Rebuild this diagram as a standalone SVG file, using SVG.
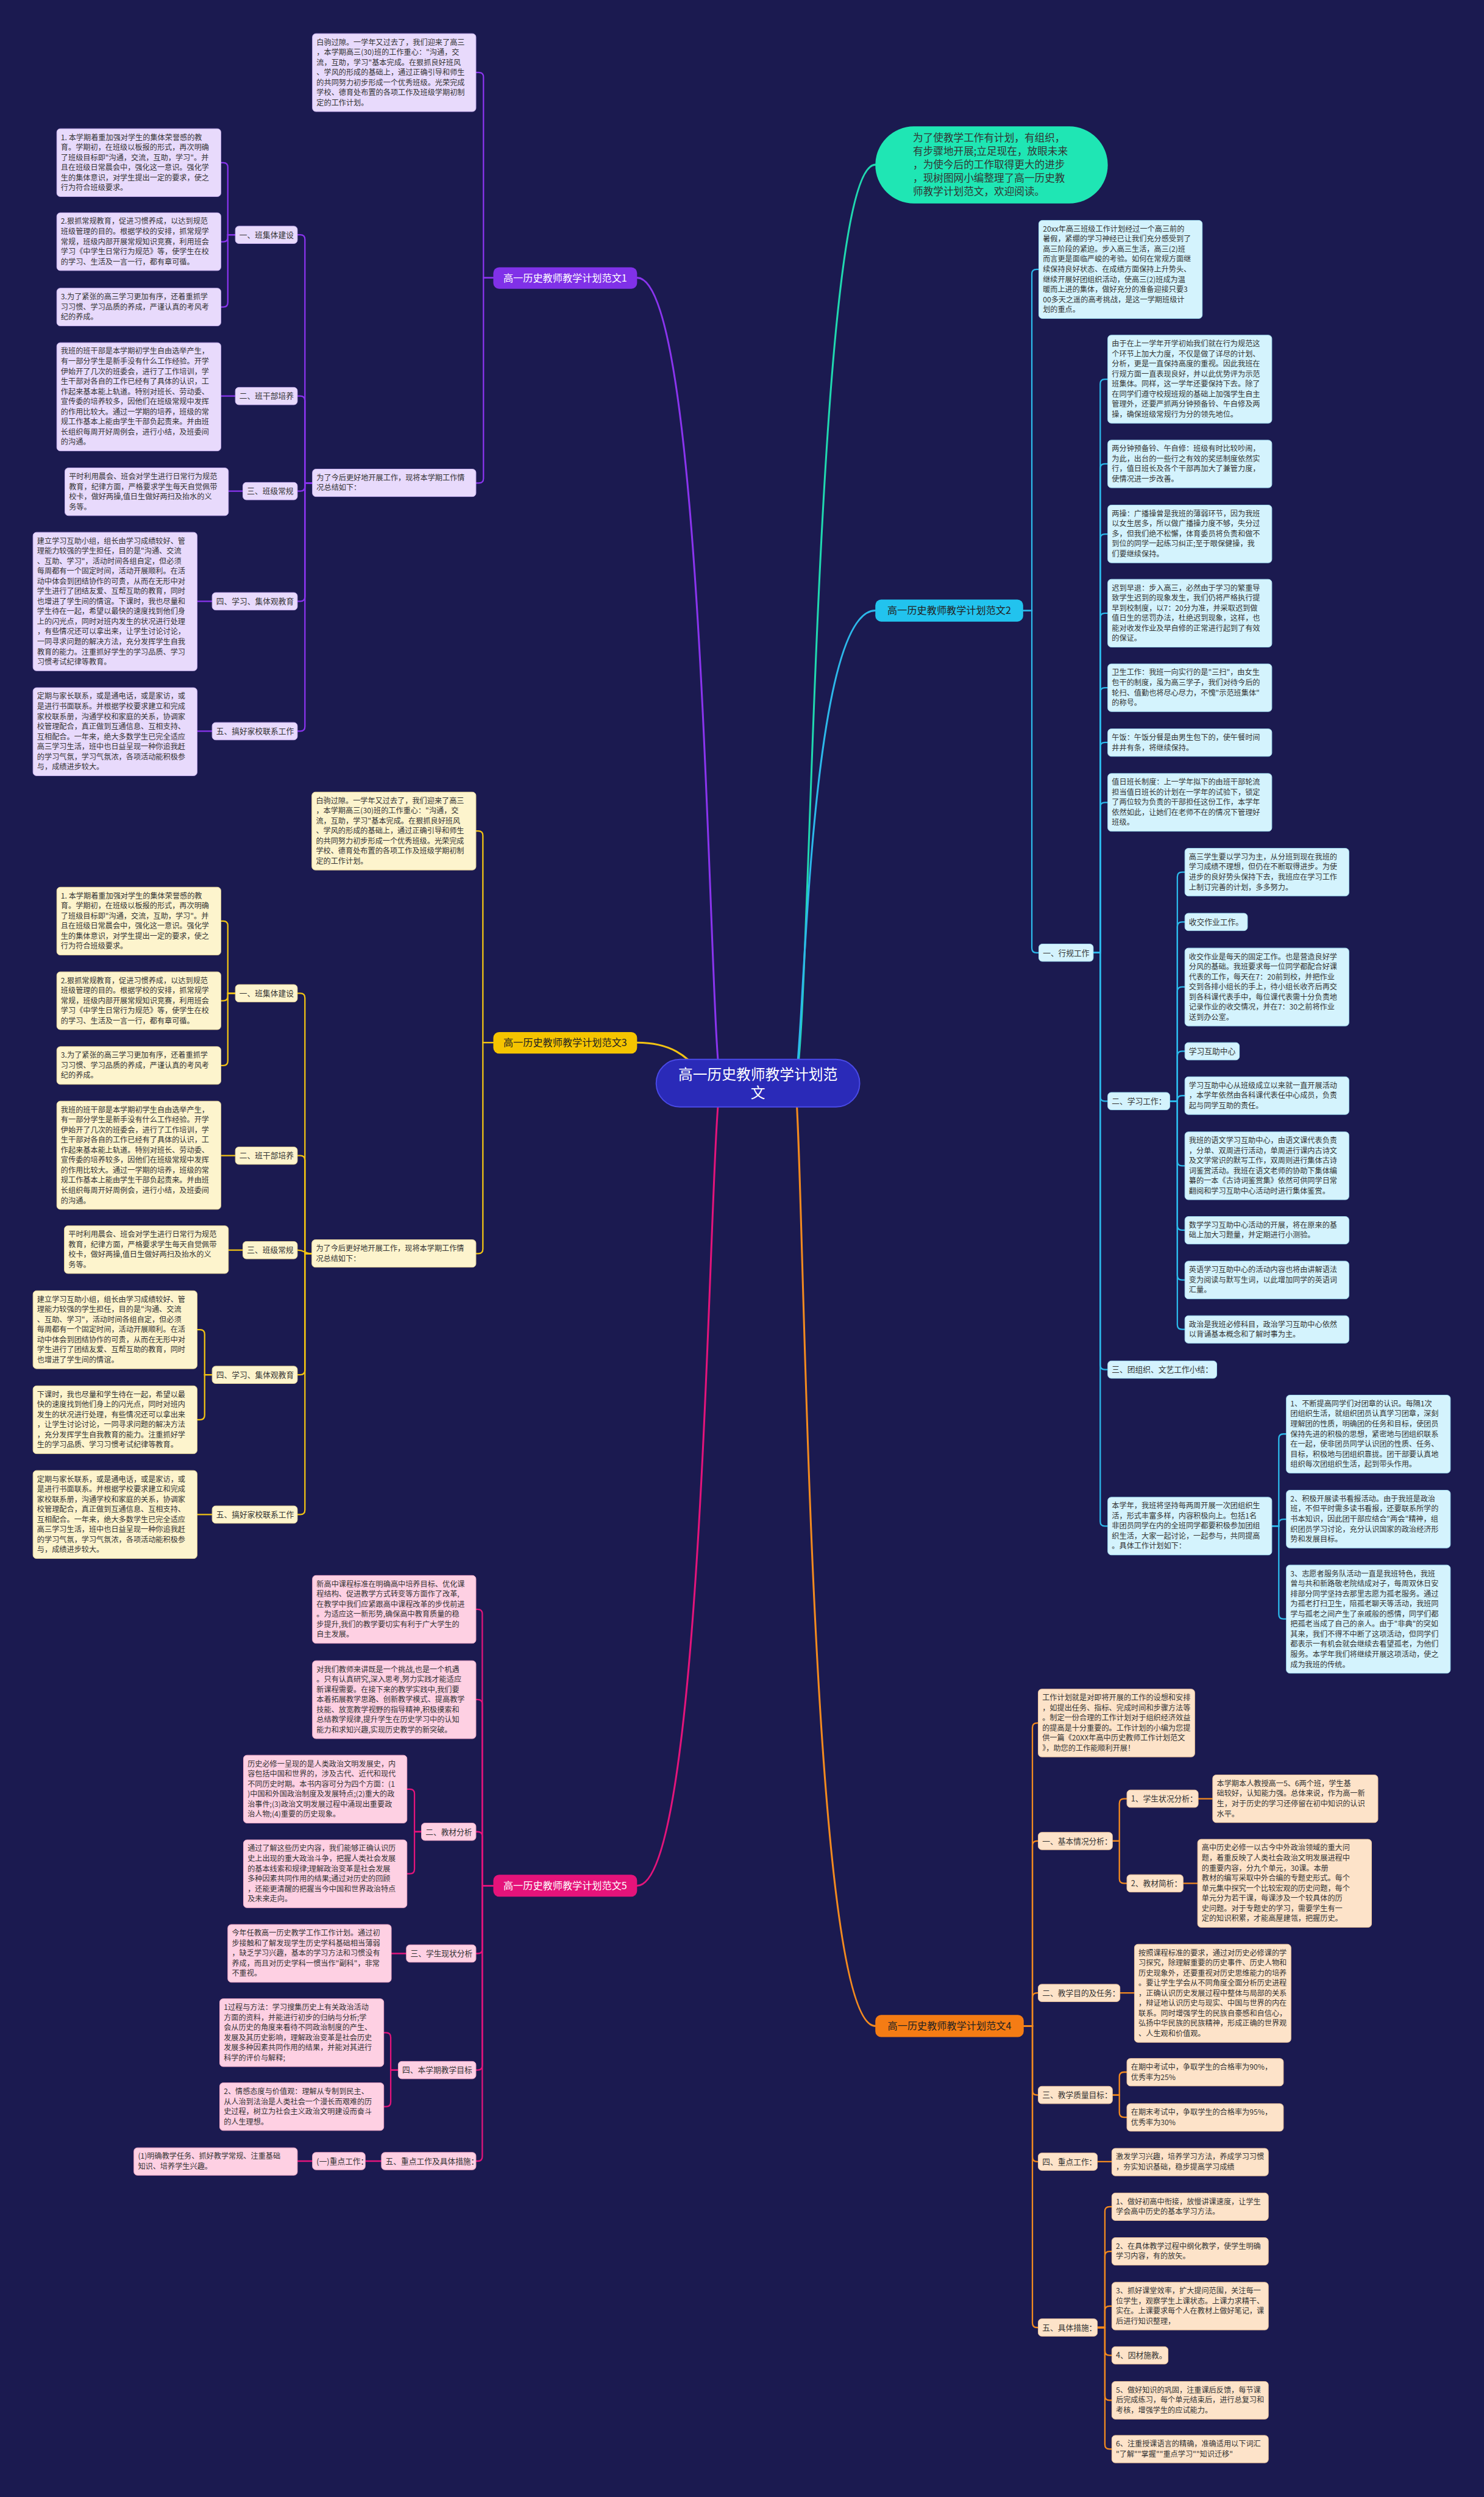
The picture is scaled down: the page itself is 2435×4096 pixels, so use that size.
<svg xmlns="http://www.w3.org/2000/svg" width="2435" height="4096" viewBox="0 0 2435 4096">
<style>
.t{font-family:"Noto Sans CJK SC","Noto Sans",sans-serif;font-size:12.8px;fill:#333}
.lb{font-size:13.4px}
.bt{font-family:"Noto Sans CJK SC","Noto Sans",sans-serif;font-size:17px}
.w{fill:#fff}
.d{fill:#222}
.c{fill:none;stroke-width:2.4;stroke-linecap:round}
.m{fill:none;stroke-width:3.2;stroke-linecap:round}
.c1{stroke:#8a34ee}.c3{stroke:#f2c313}.c5{stroke:#e3147b}.c2{stroke:#2cb8ea}.c4{stroke:#f38a1f}.cb{stroke:#20d8b0}
.p1{fill:#e8dafc;stroke:#cdb5f3;stroke-width:1}
.p3{fill:#fdf4cd;stroke:#ead79a;stroke-width:1}
.p5{fill:#fed0e3;stroke:#f2a9c8;stroke-width:1}
.p2{fill:#d4f3fd;stroke:#9fdcf1;stroke-width:1}
.p4{fill:#fde3c9;stroke:#efc59c;stroke-width:1}
</style>
<rect width="2435" height="4096" fill="#1b1a50"/>
<g transform="scale(0.95117)">
<g id="connectors">
<path class="m c1" d="M1245 1868C1222 1868 1222 479 1099 479"/>
<path class="m c3" d="M1245 1868C1200 1868 1200 1798 1099 1798"/>
<path class="m c5" d="M1245 1868C1222 1868 1222 3252 1099 3252"/>
<path class="m cb" d="M1370 1868C1400 1868 1400 284 1510 284"/>
<path class="m c2" d="M1370 1868C1388 1868 1388 1053 1510 1053"/>
<path class="m c4" d="M1370 1868C1388 1868 1388 3494 1510 3494"/>
<g class="c c1">
<path d="M851 479H834V133Q834 125 826 125H821"/>
<path d="M851 479H834V825Q834 833 826 833H821"/>
<path d="M539 833H526V413Q526 405 518 405H513"/>
<path d="M539 833H526V691Q526 683 518 683H513"/>
<path d="M539 833H526V839Q526 847 518 847H513"/>
<path d="M539 833H526V1029Q526 1037 518 1037H513"/>
<path d="M539 833H526V1253Q526 1261 518 1261H513"/>
<path d="M406 405H393V288.5Q393 280.5 385 280.5H381"/>
<path d="M406 405H393V409Q393 417 385 417H381"/>
<path d="M406 405H393V521.5Q393 529.5 385 529.5H381"/>
<path d="M406 683H381"/>
<path d="M419 847H394"/>
<path d="M366 1037H340"/>
<path d="M366 1261H340"/>
</g>
<g class="c c3">
<path d="M851 1798H833V1441Q833 1433 825 1433H821"/>
<path d="M851 1798H833V2154Q833 2162 825 2162H821"/>
<path d="M538 2162H526V1721Q526 1713 518 1713H513"/>
<path d="M538 2162H526V2001Q526 1993 518 1993H513"/>
<path d="M538 2162C526 2162 526 2156 513 2156"/>
<path d="M538 2162H526V2363Q526 2371 518 2371H513"/>
<path d="M538 2162H526V2604Q526 2612 518 2612H513"/>
<path d="M406 1713H393V1596.5Q393 1588.5 385 1588.5H380"/>
<path d="M406 1713H393V1718Q393 1726 385 1726H380"/>
<path d="M406 1713H393V1829.5Q393 1837.5 385 1837.5H380"/>
<path d="M406 1993H381"/>
<path d="M419 2156H394"/>
<path d="M366 2371H353V2301Q353 2293 345 2293H340"/>
<path d="M366 2371H353V2440.5Q353 2448.5 345 2448.5H340"/>
<path d="M366 2612H340"/>
</g>
<g class="c c5">
<path d="M851 3252H832V2783.5Q832 2775.5 824 2775.5H821"/>
<path d="M851 3252H832V2939Q832 2931 824 2931H821"/>
<path d="M851 3252H832V3167Q832 3159 824 3159H821"/>
<path d="M851 3252H832V3361Q832 3369 824 3369H821"/>
<path d="M851 3252H832V3562Q832 3570 824 3570H821"/>
<path d="M851 3252H832V3719Q832 3727 824 3727H821"/>
<path d="M727 3159H715V3093.5Q715 3085.5 707 3085.5H702"/>
<path d="M727 3159H715V3223.5Q715 3231.5 707 3231.5H702"/>
<path d="M701 3369H675"/>
<path d="M687 3570H674V3513.5Q674 3505.5 666 3505.5H662"/>
<path d="M687 3570H674V3625Q674 3633 666 3633H662"/>
<path d="M658 3727H630"/>
<path d="M539 3727H513"/>
</g>
<g class="c c2">
<path d="M1765 1053H1780V472.5Q1780 464.5 1788 464.5H1792"/>
<path d="M1765 1053H1780V1635Q1780 1643 1788 1643H1792"/>
<path d="M1886 1643H1898V662Q1898 654 1906 654H1911"/>
<path d="M1886 1643H1898V808Q1898 800 1906 800H1911"/>
<path d="M1886 1643H1898V929Q1898 921 1906 921H1911"/>
<path d="M1886 1643H1898V1065.5Q1898 1057.5 1906 1057.5H1911"/>
<path d="M1886 1643H1898V1194Q1898 1186 1906 1186H1911"/>
<path d="M1886 1643H1898V1288.5Q1898 1280.5 1906 1280.5H1911"/>
<path d="M1886 1643H1898V1392Q1898 1384 1906 1384H1911"/>
<path d="M1886 1643H1898V1891Q1898 1899 1906 1899H1911"/>
<path d="M1886 1643H1898V2354Q1898 2362 1906 2362H1911"/>
<path d="M1886 1643H1898V2624Q1898 2632 1906 2632H1911"/>
<path d="M2018 1899H2031V1512Q2031 1504 2039 1504H2044"/>
<path d="M2018 1899H2031V1598Q2031 1590 2039 1590H2044"/>
<path d="M2018 1899H2031V1710Q2031 1702 2039 1702H2044"/>
<path d="M2018 1899H2031V1821Q2031 1813 2039 1813H2044"/>
<path d="M2018 1899H2031V1897.5Q2031 1889.5 2039 1889.5H2044"/>
<path d="M2018 1899H2031V2002.5Q2031 2010.5 2039 2010.5H2044"/>
<path d="M2018 1899H2031V2113.5Q2031 2121.5 2039 2121.5H2044"/>
<path d="M2018 1899H2031V2199.5Q2031 2207.5 2039 2207.5H2044"/>
<path d="M2018 1899H2031V2284.5Q2031 2292.5 2039 2292.5H2044"/>
<path d="M2194 2632H2206V2481Q2206 2473 2214 2473H2219"/>
<path d="M2194 2632H2206V2628Q2206 2620 2214 2620H2219"/>
<path d="M2194 2632H2206V2784Q2206 2792 2214 2792H2219"/>
</g>
<g class="c c4">
<path d="M1766 3494H1781V2979.5Q1781 2971.5 1789 2971.5H1791"/>
<path d="M1766 3494H1781V3183Q1781 3175 1789 3175H1791"/>
<path d="M1766 3494H1781V3445Q1781 3437 1789 3437H1791"/>
<path d="M1766 3494H1781V3605Q1781 3613 1789 3613H1791"/>
<path d="M1766 3494H1781V3720Q1781 3728 1789 3728H1791"/>
<path d="M1766 3494H1781V4006Q1781 4014 1789 4014H1791"/>
<path d="M1919 3175H1931V3110Q1931 3102 1939 3102H1944"/>
<path d="M1919 3175H1931V3240Q1931 3248 1939 3248H1944"/>
<path d="M2067 3102H2092"/>
<path d="M2041 3248H2066"/>
<path d="M1932 3437H1957"/>
<path d="M1919 3613H1931V3581.5Q1931 3573.5 1939 3573.5H1944"/>
<path d="M1919 3613H1931V3643.5Q1931 3651.5 1939 3651.5H1944"/>
<path d="M1893 3728H1918"/>
<path d="M1893 4014H1906V3813.7Q1906 3805.7 1914 3805.7H1918"/>
<path d="M1893 4014H1906V3890.7Q1906 3882.7 1914 3882.7H1918"/>
<path d="M1893 4014H1906V3985Q1906 3977 1914 3977H1918"/>
<path d="M1893 4014H1906V4054Q1906 4062 1914 4062H1918"/>
<path d="M1893 4014H1906V4131.5Q1906 4139.5 1914 4139.5H1918"/>
<path d="M1893 4014H1906V4215.7Q1906 4223.7 1914 4223.7H1918"/>
</g>
</g>

<g id="center"><rect x="1132" y="1827" width="351" height="82" rx="41" fill="#2a2ab8" stroke="#4a4ae6" stroke-width="2"/>
<text class="bt w" style="font-size:25px" text-anchor="middle" x="1307.5" y="1862">高一历史教师教学计划范<tspan x="1307.5" dy="31">文</tspan></text></g>

<!-- Branch 1 -->
<g id="b1"><rect x="851" y="461" width="248" height="37" rx="10" fill="#8031e8"/><text class="bt w" text-anchor="middle" x="975" y="485.5">高一历史教师教学计划范文1</text></g>
<g id="b1-intro"><rect class="p1" x="539" y="58" width="282" height="134.4" rx="6"/><text class="t" x="546" y="77.3"><tspan x="546">白驹过隙。一学年又过去了，我们迎来了高三</tspan><tspan x="546" dy="17.4">，本学期高三(30)班的工作重心："沟通，交</tspan><tspan x="546" dy="17.4">流，互助，学习"基本完成。在狠抓良好班风</tspan><tspan x="546" dy="17.4">、学风的形成的基础上，通过正确引导和师生</tspan><tspan x="546" dy="17.4">的共同努力初步形成一个优秀班级。光荣完成</tspan><tspan x="546" dy="17.4">学校、德育处布置的各项工作及班级学期初制</tspan><tspan x="546" dy="17.4">定的工作计划。</tspan></text></g>
<g id="b1-sum"><rect class="p1" x="539" y="809" width="282" height="47.4" rx="6"/><text class="t" x="546" y="828.3"><tspan x="546">为了今后更好地开展工作，现将本学期工作情</tspan><tspan x="546" dy="17.4">况总结如下：</tspan></text></g>
<g id="b1-l1"><rect class="p1" x="406" y="390" width="107" height="30" rx="6"/><text class="t lb" x="413" y="410">一、班集体建设</text></g>
<g id="b1-l2"><rect class="p1" x="406" y="668" width="107" height="30" rx="6"/><text class="t lb" x="413" y="688">二、班干部培养</text></g>
<g id="b1-l3"><rect class="p1" x="419" y="832" width="94" height="30" rx="6"/><text class="t lb" x="426" y="852">三、班级常规</text></g>
<g id="b1-l4"><rect class="p1" x="366" y="1022" width="147" height="30" rx="6"/><text class="t lb" x="373" y="1042">四、学习、集体观教育</text></g>
<g id="b1-l5"><rect class="p1" x="366" y="1246" width="147" height="30" rx="6"/><text class="t lb" x="373" y="1266">五、搞好家校联系工作</text></g>
<g id="b1-1a"><rect class="p1" x="98" y="222" width="283" height="117" rx="6"/><text class="t" x="105" y="241.3"><tspan x="105">1. 本学期着重加强对学生的集体荣誉感的教</tspan><tspan x="105" dy="17.4">育。学期初，在班级以板报的形式，再次明确</tspan><tspan x="105" dy="17.4">了班级目标即"沟通，交流，互助，学习"。并</tspan><tspan x="105" dy="17.4">且在班级日常晨会中，强化这一意识。强化学</tspan><tspan x="105" dy="17.4">生的集体意识，对学生提出一定的要求，使之</tspan><tspan x="105" dy="17.4">行为符合班级要求。</tspan></text></g>
<g id="b1-1b"><rect class="p1" x="98" y="367" width="283" height="99.6" rx="6"/><text class="t" x="105" y="386.3"><tspan x="105">2.狠抓常规教育，促进习惯养成，以达到规范</tspan><tspan x="105" dy="17.4">班级管理的目的。根据学校的安排，抓常规学</tspan><tspan x="105" dy="17.4">常规，班级内部开展常规知识竞赛，利用班会</tspan><tspan x="105" dy="17.4">学习《中学生日常行为规范》等，使学生在校</tspan><tspan x="105" dy="17.4">的学习、生活及一言一行，都有章可循。</tspan></text></g>
<g id="b1-1c"><rect class="p1" x="98" y="497" width="283" height="65" rx="6"/><text class="t" x="105" y="516.3"><tspan x="105">3.为了紧张的高三学习更加有序，还着重抓学</tspan><tspan x="105" dy="17.4">习习惯、学习品质的养成，严谨认真的考风考</tspan><tspan x="105" dy="17.4">纪的养成。</tspan></text></g>
<g id="b1-2"><rect class="p1" x="98" y="591" width="283" height="186.6" rx="6"/><text class="t" x="105" y="610.3"><tspan x="105">我班的班干部是本学期初学生自由选举产生，</tspan><tspan x="105" dy="17.4">有一部分学生是新手没有什么工作经验。开学</tspan><tspan x="105" dy="17.4">伊始开了几次的班委会，进行了工作培训，学</tspan><tspan x="105" dy="17.4">生干部对各自的工作已经有了具体的认识，工</tspan><tspan x="105" dy="17.4">作起来基本能上轨道。特别对班长、劳动委、</tspan><tspan x="105" dy="17.4">宣传委的培养较多，因他们在班级常规中发挥</tspan><tspan x="105" dy="17.4">的作用比较大。通过一学期的培养，班级的常</tspan><tspan x="105" dy="17.4">规工作基本上能由学生干部负起责来。并由班</tspan><tspan x="105" dy="17.4">长组织每周开好周例会，进行小结，及班委间</tspan><tspan x="105" dy="17.4">的沟通。</tspan></text></g>
<g id="b1-3"><rect class="p1" x="112" y="807" width="282" height="82.2" rx="6"/><text class="t" x="119" y="826.3"><tspan x="119">平时利用晨会、班会对学生进行日常行为规范</tspan><tspan x="119" dy="17.4">教育，纪律方面，严格要求学生每天自觉佩带</tspan><tspan x="119" dy="17.4">校卡，做好两操,值日生做好两扫及抬水的义</tspan><tspan x="119" dy="17.4">务等。</tspan></text></g>
<g id="b1-4"><rect class="p1" x="57" y="918" width="283" height="238.8" rx="6"/><text class="t" x="64" y="937.3"><tspan x="64">建立学习互助小组，组长由学习成绩较好、管</tspan><tspan x="64" dy="17.4">理能力较强的学生担任，目的是"沟通、交流</tspan><tspan x="64" dy="17.4">、互助、学习"，活动时间各组自定，但必须</tspan><tspan x="64" dy="17.4">每周都有一个固定时间，活动开展顺利。在活</tspan><tspan x="64" dy="17.4">动中体会到团结协作的可贵，从而在无形中对</tspan><tspan x="64" dy="17.4">学生进行了团结友爱、互帮互助的教育，同时</tspan><tspan x="64" dy="17.4">也增进了学生间的情谊。下课时，我也尽量和</tspan><tspan x="64" dy="17.4">学生待在一起，希望以最快的速度找到他们身</tspan><tspan x="64" dy="17.4">上的闪光点，同时对班内发生的状况进行处理</tspan><tspan x="64" dy="17.4">，有些情况还可以拿出来，让学生讨论讨论，</tspan><tspan x="64" dy="17.4">一同寻求问题的解决方法，充分发挥学生自我</tspan><tspan x="64" dy="17.4">教育的能力。注重抓好学生的学习品质、学习</tspan><tspan x="64" dy="17.4">习惯考试纪律等教育。</tspan></text></g>
<g id="b1-5"><rect class="p1" x="57" y="1186" width="283" height="151.8" rx="6"/><text class="t" x="64" y="1205.3"><tspan x="64">定期与家长联系，或是通电话，或是家访，或</tspan><tspan x="64" dy="17.4">是进行书面联系。并根据学校要求建立和完成</tspan><tspan x="64" dy="17.4">家校联系册，沟通学校和家庭的关系，协调家</tspan><tspan x="64" dy="17.4">校管理配合，真正做到互通信息、互相支持、</tspan><tspan x="64" dy="17.4">互相配合。一年来，绝大多数学生已完全适应</tspan><tspan x="64" dy="17.4">高三学习生活，班中也日益呈现一种你追我赶</tspan><tspan x="64" dy="17.4">的学习气氛，学习气氛浓，各项活动能积极参</tspan><tspan x="64" dy="17.4">与，成绩进步较大。</tspan></text></g>

<!-- Branch 3 -->
<g id="b3"><rect x="851" y="1780" width="248" height="37" rx="10" fill="#f5c400"/><text class="bt d" text-anchor="middle" x="975" y="1804.5">高一历史教师教学计划范文3</text></g>
<g id="b3-intro"><rect class="p3" x="538" y="1366" width="283" height="134.4" rx="6"/><text class="t" x="545" y="1385.3"><tspan x="545">白驹过隙。一学年又过去了，我们迎来了高三</tspan><tspan x="545" dy="17.4">，本学期高三(30)班的工作重心："沟通，交</tspan><tspan x="545" dy="17.4">流，互助，学习"基本完成。在狠抓良好班风</tspan><tspan x="545" dy="17.4">、学风的形成的基础上，通过正确引导和师生</tspan><tspan x="545" dy="17.4">的共同努力初步形成一个优秀班级。光荣完成</tspan><tspan x="545" dy="17.4">学校、德育处布置的各项工作及班级学期初制</tspan><tspan x="545" dy="17.4">定的工作计划。</tspan></text></g>
<g id="b3-sum"><rect class="p3" x="538" y="2138" width="283" height="47.4" rx="6"/><text class="t" x="545" y="2157.3"><tspan x="545">为了今后更好地开展工作，现将本学期工作情</tspan><tspan x="545" dy="17.4">况总结如下：</tspan></text></g>
<g id="b3-l1"><rect class="p3" x="406" y="1698" width="107" height="30" rx="6"/><text class="t lb" x="413" y="1718">一、班集体建设</text></g>
<g id="b3-l2"><rect class="p3" x="406" y="1978" width="107" height="30" rx="6"/><text class="t lb" x="413" y="1998">二、班干部培养</text></g>
<g id="b3-l3"><rect class="p3" x="419" y="2141" width="94" height="30" rx="6"/><text class="t lb" x="426" y="2161">三、班级常规</text></g>
<g id="b3-l4"><rect class="p3" x="366" y="2356" width="147" height="30" rx="6"/><text class="t lb" x="373" y="2376">四、学习、集体观教育</text></g>
<g id="b3-l5"><rect class="p3" x="366" y="2597" width="147" height="30" rx="6"/><text class="t lb" x="373" y="2617">五、搞好家校联系工作</text></g>
<g id="b3-1a"><rect class="p3" x="98" y="1530" width="283" height="117" rx="6"/><text class="t" x="105" y="1549.3"><tspan x="105">1. 本学期着重加强对学生的集体荣誉感的教</tspan><tspan x="105" dy="17.4">育。学期初，在班级以板报的形式，再次明确</tspan><tspan x="105" dy="17.4">了班级目标即"沟通，交流，互助，学习"。并</tspan><tspan x="105" dy="17.4">且在班级日常晨会中，强化这一意识。强化学</tspan><tspan x="105" dy="17.4">生的集体意识，对学生提出一定的要求，使之</tspan><tspan x="105" dy="17.4">行为符合班级要求。</tspan></text></g>
<g id="b3-1b"><rect class="p3" x="98" y="1676" width="283" height="99.6" rx="6"/><text class="t" x="105" y="1695.3"><tspan x="105">2.狠抓常规教育，促进习惯养成，以达到规范</tspan><tspan x="105" dy="17.4">班级管理的目的。根据学校的安排，抓常规学</tspan><tspan x="105" dy="17.4">常规，班级内部开展常规知识竞赛，利用班会</tspan><tspan x="105" dy="17.4">学习《中学生日常行为规范》等，使学生在校</tspan><tspan x="105" dy="17.4">的学习、生活及一言一行，都有章可循。</tspan></text></g>
<g id="b3-1c"><rect class="p3" x="98" y="1805" width="283" height="65" rx="6"/><text class="t" x="105" y="1824.3"><tspan x="105">3.为了紧张的高三学习更加有序，还着重抓学</tspan><tspan x="105" dy="17.4">习习惯、学习品质的养成，严谨认真的考风考</tspan><tspan x="105" dy="17.4">纪的养成。</tspan></text></g>
<g id="b3-2"><rect class="p3" x="98" y="1899" width="283" height="186.6" rx="6"/><text class="t" x="105" y="1918.3"><tspan x="105">我班的班干部是本学期初学生自由选举产生，</tspan><tspan x="105" dy="17.4">有一部分学生是新手没有什么工作经验。开学</tspan><tspan x="105" dy="17.4">伊始开了几次的班委会，进行了工作培训，学</tspan><tspan x="105" dy="17.4">生干部对各自的工作已经有了具体的认识，工</tspan><tspan x="105" dy="17.4">作起来基本能上轨道。特别对班长、劳动委、</tspan><tspan x="105" dy="17.4">宣传委的培养较多，因他们在班级常规中发挥</tspan><tspan x="105" dy="17.4">的作用比较大。通过一学期的培养，班级的常</tspan><tspan x="105" dy="17.4">规工作基本上能由学生干部负起责来。并由班</tspan><tspan x="105" dy="17.4">长组织每周开好周例会，进行小结，及班委间</tspan><tspan x="105" dy="17.4">的沟通。</tspan></text></g>
<g id="b3-3"><rect class="p3" x="111" y="2114" width="283" height="82.2" rx="6"/><text class="t" x="118" y="2133.3"><tspan x="118">平时利用晨会、班会对学生进行日常行为规范</tspan><tspan x="118" dy="17.4">教育，纪律方面，严格要求学生每天自觉佩带</tspan><tspan x="118" dy="17.4">校卡，做好两操,值日生做好两扫及抬水的义</tspan><tspan x="118" dy="17.4">务等。</tspan></text></g>
<g id="b3-4a"><rect class="p3" x="57" y="2226" width="283" height="134.4" rx="6"/><text class="t" x="64" y="2245.3"><tspan x="64">建立学习互助小组，组长由学习成绩较好、管</tspan><tspan x="64" dy="17.4">理能力较强的学生担任，目的是"沟通、交流</tspan><tspan x="64" dy="17.4">、互助、学习"，活动时间各组自定，但必须</tspan><tspan x="64" dy="17.4">每周都有一个固定时间，活动开展顺利。在活</tspan><tspan x="64" dy="17.4">动中体会到团结协作的可贵，从而在无形中对</tspan><tspan x="64" dy="17.4">学生进行了团结友爱、互帮互助的教育，同时</tspan><tspan x="64" dy="17.4">也增进了学生间的情谊。</tspan></text></g>
<g id="b3-4b"><rect class="p3" x="57" y="2390" width="283" height="117" rx="6"/><text class="t" x="64" y="2409.3"><tspan x="64">下课时，我也尽量和学生待在一起，希望以最</tspan><tspan x="64" dy="17.4">快的速度找到他们身上的闪光点，同时对班内</tspan><tspan x="64" dy="17.4">发生的状况进行处理，有些情况还可以拿出来</tspan><tspan x="64" dy="17.4">，让学生讨论讨论，一同寻求问题的解决方法</tspan><tspan x="64" dy="17.4">，充分发挥学生自我教育的能力。注重抓好学</tspan><tspan x="64" dy="17.4">生的学习品质、学习习惯考试纪律等教育。</tspan></text></g>
<g id="b3-5"><rect class="p3" x="57" y="2536" width="283" height="151.8" rx="6"/><text class="t" x="64" y="2555.3"><tspan x="64">定期与家长联系，或是通电话，或是家访，或</tspan><tspan x="64" dy="17.4">是进行书面联系。并根据学校要求建立和完成</tspan><tspan x="64" dy="17.4">家校联系册，沟通学校和家庭的关系，协调家</tspan><tspan x="64" dy="17.4">校管理配合，真正做到互通信息、互相支持、</tspan><tspan x="64" dy="17.4">互相配合。一年来，绝大多数学生已完全适应</tspan><tspan x="64" dy="17.4">高三学习生活，班中也日益呈现一种你追我赶</tspan><tspan x="64" dy="17.4">的学习气氛，学习气氛浓，各项活动能积极参</tspan><tspan x="64" dy="17.4">与，成绩进步较大。</tspan></text></g>

<!-- Branch 5 -->
<g id="b5"><rect x="851" y="3233" width="248" height="38" rx="10" fill="#e5137a"/><text class="bt w" text-anchor="middle" x="975" y="3258.5">高一历史教师教学计划范文5</text></g>
<g id="b5-a"><rect class="p5" x="539" y="2717" width="282" height="117" rx="6"/><text class="t" x="546" y="2736.3"><tspan x="546">新高中课程标准在明确高中培养目标、优化课</tspan><tspan x="546" dy="17.4">程结构、促进教学方式转变等方面作了改革,</tspan><tspan x="546" dy="17.4">在教学中我们应紧跟高中课程改革的步伐前进</tspan><tspan x="546" dy="17.4">。为适应这一新形势,确保高中教育质量的稳</tspan><tspan x="546" dy="17.4">步提升,我们的教学要切实有利于广大学生的</tspan><tspan x="546" dy="17.4">自主发展。</tspan></text></g>
<g id="b5-b"><rect class="p5" x="539" y="2864" width="282" height="134.4" rx="6"/><text class="t" x="546" y="2883.3"><tspan x="546">对我们教师来讲既是一个挑战,也是一个机遇</tspan><tspan x="546" dy="17.4">。只有认真研究,深入思考,努力实践才能适应</tspan><tspan x="546" dy="17.4">新课程需要。在接下来的教学实践中,我们要</tspan><tspan x="546" dy="17.4">本着拓展教学思路、创新教学模式、提高教学</tspan><tspan x="546" dy="17.4">技能、放宽教学视野的指导精神,积极摸索和</tspan><tspan x="546" dy="17.4">总结教学规律,提升学生在历史学习中的认知</tspan><tspan x="546" dy="17.4">能力和求知兴趣,实现历史教学的新突破。</tspan></text></g>
<g id="b5-l2"><rect class="p5" x="727" y="3144" width="94" height="30" rx="6"/><text class="t lb" x="734" y="3164">二、教材分析</text></g>
<g id="b5-l3"><rect class="p5" x="701" y="3354" width="120" height="30" rx="6"/><text class="t lb" x="708" y="3374">三、学生现状分析</text></g>
<g id="b5-l4"><rect class="p5" x="687" y="3555" width="134" height="30" rx="6"/><text class="t lb" x="694" y="3575">四、本学期教学目标</text></g>
<g id="b5-l5"><rect class="p5" x="658" y="3712" width="163" height="30" rx="6"/><text class="t lb" x="665" y="3732">五、重点工作及具体措施：</text></g>
<g id="b5-l51"><rect class="p5" x="539" y="3712" width="91" height="30" rx="6"/><text class="t lb" x="546" y="3732">(一)重点工作：</text></g>
<g id="b5-2a"><rect class="p5" x="420" y="3027" width="282" height="117" rx="6"/><text class="t" x="427" y="3046.3"><tspan x="427">历史必修一呈现的是人类政治文明发展史，内</tspan><tspan x="427" dy="17.4">容包括中国和世界的，涉及古代、近代和现代</tspan><tspan x="427" dy="17.4">不同历史时期。本书内容可分为四个方面：(1</tspan><tspan x="427" dy="17.4">)中国和外国政治制度及发展特点;(2)重大的政</tspan><tspan x="427" dy="17.4">治事件;(3)政治文明发展过程中涌现出重要政</tspan><tspan x="427" dy="17.4">治人物;(4)重要的历史现象。</tspan></text></g>
<g id="b5-2b"><rect class="p5" x="420" y="3173" width="282" height="117" rx="6"/><text class="t" x="427" y="3192.3"><tspan x="427">通过了解这些历史内容，我们能够正确认识历</tspan><tspan x="427" dy="17.4">史上出现的重大政治斗争，把握人类社会发展</tspan><tspan x="427" dy="17.4">的基本线索和规律;理解政治变革是社会发展</tspan><tspan x="427" dy="17.4">多种因素共同作用的结果;通过对历史的回顾</tspan><tspan x="427" dy="17.4">，还能更清醒的把握当今中国和世界政治特点</tspan><tspan x="427" dy="17.4">及未来走向。</tspan></text></g>
<g id="b5-3"><rect class="p5" x="393" y="3319" width="282" height="99.6" rx="6"/><text class="t" x="400" y="3338.3"><tspan x="400">今年任教高一历史教学工作工作计划。通过初</tspan><tspan x="400" dy="17.4">步接触和了解发现学生历史学科基础相当薄弱</tspan><tspan x="400" dy="17.4">，缺乏学习兴趣，基本的学习方法和习惯没有</tspan><tspan x="400" dy="17.4">养成，而且对历史学科一惯当作"副科"，非常</tspan><tspan x="400" dy="17.4">不重视。</tspan></text></g>
<g id="b5-4a"><rect class="p5" x="379" y="3447" width="283" height="117" rx="6"/><text class="t" x="386" y="3466.3"><tspan x="386">1过程与方法：学习搜集历史上有关政治活动</tspan><tspan x="386" dy="17.4">方面的资料，并能进行初步的归纳与分析;学</tspan><tspan x="386" dy="17.4">会从历史的角度来看待不同政治制度的产生、</tspan><tspan x="386" dy="17.4">发展及其历史影响，理解政治变革是社会历史</tspan><tspan x="386" dy="17.4">发展多种因素共同作用的结果，并能对其进行</tspan><tspan x="386" dy="17.4">科学的评价与解释;</tspan></text></g>
<g id="b5-4b"><rect class="p5" x="379" y="3592" width="283" height="82.2" rx="6"/><text class="t" x="386" y="3611.3"><tspan x="386">2、情感态度与价值观：理解从专制到民主、</tspan><tspan x="386" dy="17.4">从人治到法治是人类社会一个漫长而艰难的历</tspan><tspan x="386" dy="17.4">史过程，树立为社会主义政治文明建设而奋斗</tspan><tspan x="386" dy="17.4">的人生理想。</tspan></text></g>
<g id="b5-51"><rect class="p5" x="231" y="3704" width="282" height="47.4" rx="6"/><text class="t" x="238" y="3723.3"><tspan x="238">(1)明确教学任务、抓好教学常规、注重基础</tspan><tspan x="238" dy="17.4">知识、培养学生兴趣。</tspan></text></g>

<!-- Right top bubble -->
<g id="intro-bubble"><rect x="1510" y="218" width="401" height="133" rx="66.5" fill="#1fe6b4"/><text class="t" style="font-size:17.5px" x="1575" y="243.7"><tspan x="1575">为了使教学工作有计划，有组织，</tspan><tspan x="1575" dy="23.2">有步骤地开展;立足现在，放眼未来</tspan><tspan x="1575" dy="23.2">，为使今后的工作取得更大的进步</tspan><tspan x="1575" dy="23.2">，现树图网小编整理了高一历史教</tspan><tspan x="1575" dy="23.2">师教学计划范文，欢迎阅读。</tspan></text></g>

<!-- Branch 2 -->
<g id="b2"><rect x="1510" y="1034" width="255" height="38" rx="10" fill="#22c3ee"/><text class="bt d" text-anchor="middle" x="1637.5" y="1059">高一历史教师教学计划范文2</text></g>
<g id="b2-intro"><rect class="p2" x="1792" y="380" width="282" height="169.2" rx="6"/><text class="t" x="1799" y="399.3"><tspan x="1799">20xx年高三班级工作计划经过一个高三前的</tspan><tspan x="1799" dy="17.4">暑假，紧绷的学习神经已让我们充分感受到了</tspan><tspan x="1799" dy="17.4">高三阶段的紧迫。步入高三生活，高三(2)班</tspan><tspan x="1799" dy="17.4">而言更是面临严峻的考验。如何在常规方面继</tspan><tspan x="1799" dy="17.4">续保持良好状态、在成绩方面保持上升势头、</tspan><tspan x="1799" dy="17.4">继续开展好团组织活动，使高三(2)班成为温</tspan><tspan x="1799" dy="17.4">暖而上进的集体，做好充分的准备迎接只要3</tspan><tspan x="1799" dy="17.4">00多天之遥的高考挑战，是这一学期班级计</tspan><tspan x="1799" dy="17.4">划的重点。</tspan></text></g>
<g id="b2-l1"><rect class="p2" x="1792" y="1628" width="94" height="30" rx="6"/><text class="t lb" x="1799" y="1648">一、行规工作</text></g>
<g id="b2-a"><rect class="p2" x="1911" y="578" width="283" height="151.8" rx="6"/><text class="t" x="1918" y="597.3"><tspan x="1918">由于在上一学年开学初始我们就在行为规范这</tspan><tspan x="1918" dy="17.4">个环节上加大力度，不仅是做了详尽的计划、</tspan><tspan x="1918" dy="17.4">分析，更是一直保持高度的重视。因此我班在</tspan><tspan x="1918" dy="17.4">行规方面一直表现良好，并以此优势评为示范</tspan><tspan x="1918" dy="17.4">班集体。同样，这一学年还要保持下去。除了</tspan><tspan x="1918" dy="17.4">在同学们遵守校规班规的基础上加强学生自主</tspan><tspan x="1918" dy="17.4">管理外，还要严抓两分钟预备铃、午自修及两</tspan><tspan x="1918" dy="17.4">操，确保班级常规行为分的领先地位。</tspan></text></g>
<g id="b2-b"><rect class="p2" x="1911" y="759" width="283" height="82.2" rx="6"/><text class="t" x="1918" y="778.3"><tspan x="1918">两分钟预备铃、午自修：班级有时比较吵闹，</tspan><tspan x="1918" dy="17.4">为此，出台的一些行之有效的奖惩制度依然实</tspan><tspan x="1918" dy="17.4">行，值日班长及各个干部再加大了兼管力度，</tspan><tspan x="1918" dy="17.4">使情况进一步改善。</tspan></text></g>
<g id="b2-c"><rect class="p2" x="1911" y="871" width="283" height="99.6" rx="6"/><text class="t" x="1918" y="890.3"><tspan x="1918">两操：广播操曾是我班的薄弱环节，因为我班</tspan><tspan x="1918" dy="17.4">以女生居多，所以做广播操力度不够，失分过</tspan><tspan x="1918" dy="17.4">多，但我们绝不松懈，体育委员将负责和做不</tspan><tspan x="1918" dy="17.4">到位的同学一起练习纠正;至于眼保健操，我</tspan><tspan x="1918" dy="17.4">们要继续保持。</tspan></text></g>
<g id="b2-d"><rect class="p2" x="1911" y="999" width="283" height="117" rx="6"/><text class="t" x="1918" y="1018.3"><tspan x="1918">迟到早退：步入高三，必然由于学习的繁重导</tspan><tspan x="1918" dy="17.4">致学生迟到的现象发生，我们仍将严格执行提</tspan><tspan x="1918" dy="17.4">早到校制度，以7：20分为准，并采取迟到做</tspan><tspan x="1918" dy="17.4">值日生的惩罚办法，杜绝迟到现象，这样，也</tspan><tspan x="1918" dy="17.4">能对收发作业及早自修的正常进行起到了有效</tspan><tspan x="1918" dy="17.4">的保证。</tspan></text></g>
<g id="b2-e"><rect class="p2" x="1911" y="1145" width="283" height="82.2" rx="6"/><text class="t" x="1918" y="1164.3"><tspan x="1918">卫生工作：我班一向实行的是"三扫"，由女生</tspan><tspan x="1918" dy="17.4">包干的制度，虽为高三学子，我们对待今后的</tspan><tspan x="1918" dy="17.4">轮扫、值勤也将尽心尽力，不愧"示范班集体"</tspan><tspan x="1918" dy="17.4">的称号。</tspan></text></g>
<g id="b2-f"><rect class="p2" x="1911" y="1257" width="283" height="47.4" rx="6"/><text class="t" x="1918" y="1276.3"><tspan x="1918">午饭：午饭分餐是由男生包下的，使午餐时间</tspan><tspan x="1918" dy="17.4">井井有条，将继续保持。</tspan></text></g>
<g id="b2-g"><rect class="p2" x="1911" y="1334" width="283" height="99.6" rx="6"/><text class="t" x="1918" y="1353.3"><tspan x="1918">值日班长制度：上一学年拟下的由班干部轮流</tspan><tspan x="1918" dy="17.4">担当值日班长的计划在一学年的试验下，锁定</tspan><tspan x="1918" dy="17.4">了两位较为负责的干部担任这份工作，本学年</tspan><tspan x="1918" dy="17.4">依然如此，让她们在老师不在的情况下管理好</tspan><tspan x="1918" dy="17.4">班级。</tspan></text></g>
<g id="b2-h"><rect class="p2" x="1911" y="1884" width="107" height="30" rx="6"/><text class="t lb" x="1918" y="1904">二、学习工作：</text></g>
<g id="b2-i"><rect class="p2" x="1911" y="2347" width="188" height="30" rx="6"/><text class="t lb" x="1918" y="2367">三、团组织、文艺工作小结：</text></g>
<g id="b2-j"><rect class="p2" x="1911" y="2582" width="283" height="99.6" rx="6"/><text class="t" x="1918" y="2601.3"><tspan x="1918">本学年，我班将坚持每两周开展一次团组织生</tspan><tspan x="1918" dy="17.4">活，形式丰富多样，内容积极向上。包括1名</tspan><tspan x="1918" dy="17.4">非团员同学在内的全班同学都要积极参加团组</tspan><tspan x="1918" dy="17.4">织生活，大家一起讨论，一起参与，共同提高</tspan><tspan x="1918" dy="17.4">。具体工作计划如下：</tspan></text></g>
<g id="b2-h1"><rect class="p2" x="2044" y="1463" width="283" height="82.2" rx="6"/><text class="t" x="2051" y="1482.3"><tspan x="2051">高三学生要以学习为主，从分班到现在我班的</tspan><tspan x="2051" dy="17.4">学习成绩不理想，但仍在不断取得进步。为使</tspan><tspan x="2051" dy="17.4">进步的良好势头保持下去，我班应在学习工作</tspan><tspan x="2051" dy="17.4">上制订完善的计划，多多努力。</tspan></text></g>
<g id="b2-h2"><rect class="p2" x="2044" y="1575" width="108" height="30" rx="6"/><text class="t lb" x="2051" y="1595">收交作业工作。</text></g>
<g id="b2-h3"><rect class="p2" x="2044" y="1635" width="283" height="134.4" rx="6"/><text class="t" x="2051" y="1654.3"><tspan x="2051">收交作业是每天的固定工作。也是营造良好学</tspan><tspan x="2051" dy="17.4">分风的基础。我班要求每一位同学都配合好课</tspan><tspan x="2051" dy="17.4">代表的工作，每天在7：20前到校，并把作业</tspan><tspan x="2051" dy="17.4">交到各排小组长的手上，待小组长收齐后再交</tspan><tspan x="2051" dy="17.4">到各科课代表手中，每位课代表需十分负责地</tspan><tspan x="2051" dy="17.4">记录作业的收交情况，并在7：30之前将作业</tspan><tspan x="2051" dy="17.4">送到办公室。</tspan></text></g>
<g id="b2-h4"><rect class="p2" x="2044" y="1798" width="94" height="30" rx="6"/><text class="t lb" x="2051" y="1818">学习互助中心</text></g>
<g id="b2-h5"><rect class="p2" x="2044" y="1857" width="283" height="65" rx="6"/><text class="t" x="2051" y="1876.3"><tspan x="2051">学习互助中心从班级成立以来就一直开展活动</tspan><tspan x="2051" dy="17.4">，本学年依然由各科课代表任中心成员，负责</tspan><tspan x="2051" dy="17.4">起与同学互助的责任。</tspan></text></g>
<g id="b2-h6"><rect class="p2" x="2044" y="1952" width="283" height="117" rx="6"/><text class="t" x="2051" y="1971.3"><tspan x="2051">我班的语文学习互助中心，由语文课代表负责</tspan><tspan x="2051" dy="17.4">，分单、双周进行活动，单周进行课内古诗文</tspan><tspan x="2051" dy="17.4">及文学常识的默写工作，双周则进行集体古诗</tspan><tspan x="2051" dy="17.4">词鉴赏活动。我班在语文老师的协助下集体编</tspan><tspan x="2051" dy="17.4">纂的一本《古诗词鉴赏集》依然可供同学日常</tspan><tspan x="2051" dy="17.4">翻阅和学习互助中心活动时进行集体鉴赏。</tspan></text></g>
<g id="b2-h7"><rect class="p2" x="2044" y="2098" width="283" height="47.4" rx="6"/><text class="t" x="2051" y="2117.3"><tspan x="2051">数学学习互助中心活动的开展，将在原来的基</tspan><tspan x="2051" dy="17.4">础上加大习题量，并定期进行小测验。</tspan></text></g>
<g id="b2-h8"><rect class="p2" x="2044" y="2175" width="283" height="65" rx="6"/><text class="t" x="2051" y="2194.3"><tspan x="2051">英语学习互助中心的活动内容也将由讲解语法</tspan><tspan x="2051" dy="17.4">变为阅读与默写生词，以此增加同学的英语词</tspan><tspan x="2051" dy="17.4">汇量。</tspan></text></g>
<g id="b2-h9"><rect class="p2" x="2044" y="2269" width="283" height="47.4" rx="6"/><text class="t" x="2051" y="2288.3"><tspan x="2051">政治是我班必修科目，政治学习互助中心依然</tspan><tspan x="2051" dy="17.4">以背诵基本概念和了解时事为主。</tspan></text></g>
<g id="b2-j1"><rect class="p2" x="2219" y="2406" width="283" height="134.4" rx="6"/><text class="t" x="2226" y="2425.3"><tspan x="2226">1、不断提高同学们对团章的认识。每隔1次</tspan><tspan x="2226" dy="17.4">团组织生活，就组织团员认真学习团章，深刻</tspan><tspan x="2226" dy="17.4">理解团的性质，明确团的任务和目标，使团员</tspan><tspan x="2226" dy="17.4">保持先进的积极的思想，紧密地与团组织联系</tspan><tspan x="2226" dy="17.4">在一起，使非团员同学认识团的性质、任务、</tspan><tspan x="2226" dy="17.4">目标，积极地与团组织靠拢。团干部要认真地</tspan><tspan x="2226" dy="17.4">组织每次团组织生活，起到带头作用。</tspan></text></g>
<g id="b2-j2"><rect class="p2" x="2219" y="2570" width="283" height="99.6" rx="6"/><text class="t" x="2226" y="2589.3"><tspan x="2226">2、积极开展读书看报活动。由于我班是政治</tspan><tspan x="2226" dy="17.4">班，不但平时需多读书看报，还要联系所学的</tspan><tspan x="2226" dy="17.4">书本知识，因此团干部应结合"两会"精神，组</tspan><tspan x="2226" dy="17.4">织团员学习讨论，充分认识国家的政治经济形</tspan><tspan x="2226" dy="17.4">势和发展目标。</tspan></text></g>
<g id="b2-j3"><rect class="p2" x="2219" y="2699" width="283" height="186.6" rx="6"/><text class="t" x="2226" y="2718.3"><tspan x="2226">3、志愿者服务队活动一直是我班特色，我班</tspan><tspan x="2226" dy="17.4">曾与共和新路敬老院结成对子，每周双休日安</tspan><tspan x="2226" dy="17.4">排部分同学坚持去那里志愿为孤老服务。通过</tspan><tspan x="2226" dy="17.4">为孤老打扫卫生，陪孤老聊天等活动，我班同</tspan><tspan x="2226" dy="17.4">学与孤老之间产生了亲戚般的感情，同学们都</tspan><tspan x="2226" dy="17.4">把孤老当成了自己的亲人。由于"非典"的突如</tspan><tspan x="2226" dy="17.4">其来，我们不得不中断了这项活动，但同学们</tspan><tspan x="2226" dy="17.4">都表示一有机会就会继续去看望孤老，为他们</tspan><tspan x="2226" dy="17.4">服务。本学年我们将继续开展这项活动，使之</tspan><tspan x="2226" dy="17.4">成为我班的传统。</tspan></text></g>

<!-- Branch 4 -->
<g id="b4"><rect x="1510" y="3475" width="256" height="38" rx="10" fill="#f57c14"/><text class="bt d" text-anchor="middle" x="1638" y="3500">高一历史教师教学计划范文4</text></g>
<g id="b4-intro"><rect class="p4" x="1791" y="2913" width="270" height="117" rx="6"/><text class="t" x="1798" y="2932.3"><tspan x="1798">工作计划就是对即将开展的工作的设想和安排</tspan><tspan x="1798" dy="17.4">，如提出任务、指标、完成时间和步骤方法等</tspan><tspan x="1798" dy="17.4">。制定一份合理的工作计划对于组织经济效益</tspan><tspan x="1798" dy="17.4">的提高是十分重要的。工作计划的小编为您提</tspan><tspan x="1798" dy="17.4">供一篇《20XX年高中历史教师工作计划范文</tspan><tspan x="1798" dy="17.4">》，助您的工作能顺利开展！</tspan></text></g>
<g id="b4-l1"><rect class="p4" x="1791" y="3160" width="128" height="30" rx="6"/><text class="t lb" x="1798" y="3180">一、基本情况分析：</text></g>
<g id="b4-l2"><rect class="p4" x="1791" y="3422" width="141" height="30" rx="6"/><text class="t lb" x="1798" y="3442">二、教学目的及任务：</text></g>
<g id="b4-l3"><rect class="p4" x="1791" y="3598" width="128" height="30" rx="6"/><text class="t lb" x="1798" y="3618">三、教学质量目标：</text></g>
<g id="b4-l4"><rect class="p4" x="1791" y="3713" width="102" height="30" rx="6"/><text class="t lb" x="1798" y="3733">四、重点工作：</text></g>
<g id="b4-l5"><rect class="p4" x="1791" y="3999" width="102" height="30" rx="6"/><text class="t lb" x="1798" y="4019">五、具体措施：</text></g>
<g id="b4-l11"><rect class="p4" x="1944" y="3087" width="123" height="30" rx="6"/><text class="t lb" x="1951" y="3107">1、学生状况分析：</text></g>
<g id="b4-l12"><rect class="p4" x="1944" y="3233" width="97" height="30" rx="6"/><text class="t lb" x="1951" y="3253">2、教材简析：</text></g>
<g id="b4-11"><rect class="p4" x="2092" y="3061" width="285" height="82.2" rx="6"/><text class="t" x="2099" y="3080.3"><tspan x="2099">本学期本人教授高一5、6两个班，学生基</tspan><tspan x="2099" dy="17.4">础较好，认知能力强。总体来说，作为高一新</tspan><tspan x="2099" dy="17.4">生，对于历史的学习还停留在初中知识的认识</tspan><tspan x="2099" dy="17.4">水平。</tspan></text></g>
<g id="b4-12"><rect class="p4" x="2066" y="3172" width="300" height="151.8" rx="6"/><text class="t" x="2073" y="3191.3"><tspan x="2073">高中历史必修一以古今中外政治领域的重大问</tspan><tspan x="2073" dy="17.4">题，着重反映了人类社会政治文明发展进程中</tspan><tspan x="2073" dy="17.4">的重要内容，分九个单元，30课。本册</tspan><tspan x="2073" dy="17.4">教材的编写采取中外合编的专题史形式。每个</tspan><tspan x="2073" dy="17.4">单元集中探究一个比较宏观的历史问题，每个</tspan><tspan x="2073" dy="17.4">单元分为若干课，每课涉及一个较具体的历</tspan><tspan x="2073" dy="17.4">史问题。对于专题史的学习，需要学生有一</tspan><tspan x="2073" dy="17.4">定的知识积累，才能高屋建瓴，把握历史。</tspan></text></g>
<g id="b4-2"><rect class="p4" x="1957" y="3353" width="270" height="169.2" rx="6"/><text class="t" x="1964" y="3372.3"><tspan x="1964">按照课程标准的要求，通过对历史必修课的学</tspan><tspan x="1964" dy="17.4">习探究，除理解重要的历史事件、历史人物和</tspan><tspan x="1964" dy="17.4">历史现象外，还要重视对历史思维能力的培养</tspan><tspan x="1964" dy="17.4">。要让学生学会从不同角度全面分析历史进程</tspan><tspan x="1964" dy="17.4">，正确认识历史发展过程中整体与局部的关系</tspan><tspan x="1964" dy="17.4">，辩证地认识历史与现实、中国与世界的内在</tspan><tspan x="1964" dy="17.4">联系。同时增强学生的民族自豪感和自信心，</tspan><tspan x="1964" dy="17.4">弘扬中华民族的民族精神，形成正确的世界观</tspan><tspan x="1964" dy="17.4">、人生观和价值观。</tspan></text></g>
<g id="b4-3a"><rect class="p4" x="1944" y="3550" width="270" height="47.4" rx="6"/><text class="t" x="1951" y="3569.3"><tspan x="1951">在期中考试中，争取学生的合格率为90%，</tspan><tspan x="1951" dy="17.4">优秀率为25%</tspan></text></g>
<g id="b4-3b"><rect class="p4" x="1944" y="3628" width="270" height="47.4" rx="6"/><text class="t" x="1951" y="3647.3"><tspan x="1951">在期末考试中，争取学生的合格率为95%，</tspan><tspan x="1951" dy="17.4">优秀率为30%</tspan></text></g>
<g id="b4-4"><rect class="p4" x="1918" y="3705" width="270" height="47.4" rx="6"/><text class="t" x="1925" y="3724.3"><tspan x="1925">激发学习兴趣，培养学习方法，养成学习习惯</tspan><tspan x="1925" dy="17.4">，夯实知识基础，稳步提高学习成绩</tspan></text></g>
<g id="b4-5a"><rect class="p4" x="1918" y="3782" width="270" height="47.4" rx="6"/><text class="t" x="1925" y="3801.3"><tspan x="1925">1、做好初高中衔接，放慢讲课速度，让学生</tspan><tspan x="1925" dy="17.4">学会高中历史的基本学习方法。</tspan></text></g>
<g id="b4-5b"><rect class="p4" x="1918" y="3859" width="270" height="47.4" rx="6"/><text class="t" x="1925" y="3878.3"><tspan x="1925">2、在具体教学过程中纲化教学，使学生明确</tspan><tspan x="1925" dy="17.4">学习内容，有的放矢。</tspan></text></g>
<g id="b4-5c"><rect class="p4" x="1918" y="3936" width="270" height="82.2" rx="6"/><text class="t" x="1925" y="3955.3"><tspan x="1925">3、抓好课堂效率，扩大提问范围，关注每一</tspan><tspan x="1925" dy="17.4">位学生，观察学生上课状态。上课力求精干、</tspan><tspan x="1925" dy="17.4">实在。上课要求每个人在教材上做好笔记，课</tspan><tspan x="1925" dy="17.4">后进行知识整理，</tspan></text></g>
<g id="b4-5d"><rect class="p4" x="1918" y="4047" width="97" height="30" rx="6"/><text class="t lb" x="1925" y="4067">4、因材施教。</text></g>
<g id="b4-5e"><rect class="p4" x="1918" y="4107" width="270" height="65" rx="6"/><text class="t" x="1925" y="4126.3"><tspan x="1925">5、做好知识的巩固，注重课后反馈，每节课</tspan><tspan x="1925" dy="17.4">后完成练习，每个单元结束后，进行总复习和</tspan><tspan x="1925" dy="17.4">考核，增强学生的应试能力。</tspan></text></g>
<g id="b4-5f"><rect class="p4" x="1918" y="4200" width="270" height="47.4" rx="6"/><text class="t" x="1925" y="4219.3"><tspan x="1925">6、注重授课语言的精确，准确适用以下词汇</tspan><tspan x="1925" dy="17.4">"了解""掌握""重点学习""知识迁移"</tspan></text></g>
</g>
</svg>
